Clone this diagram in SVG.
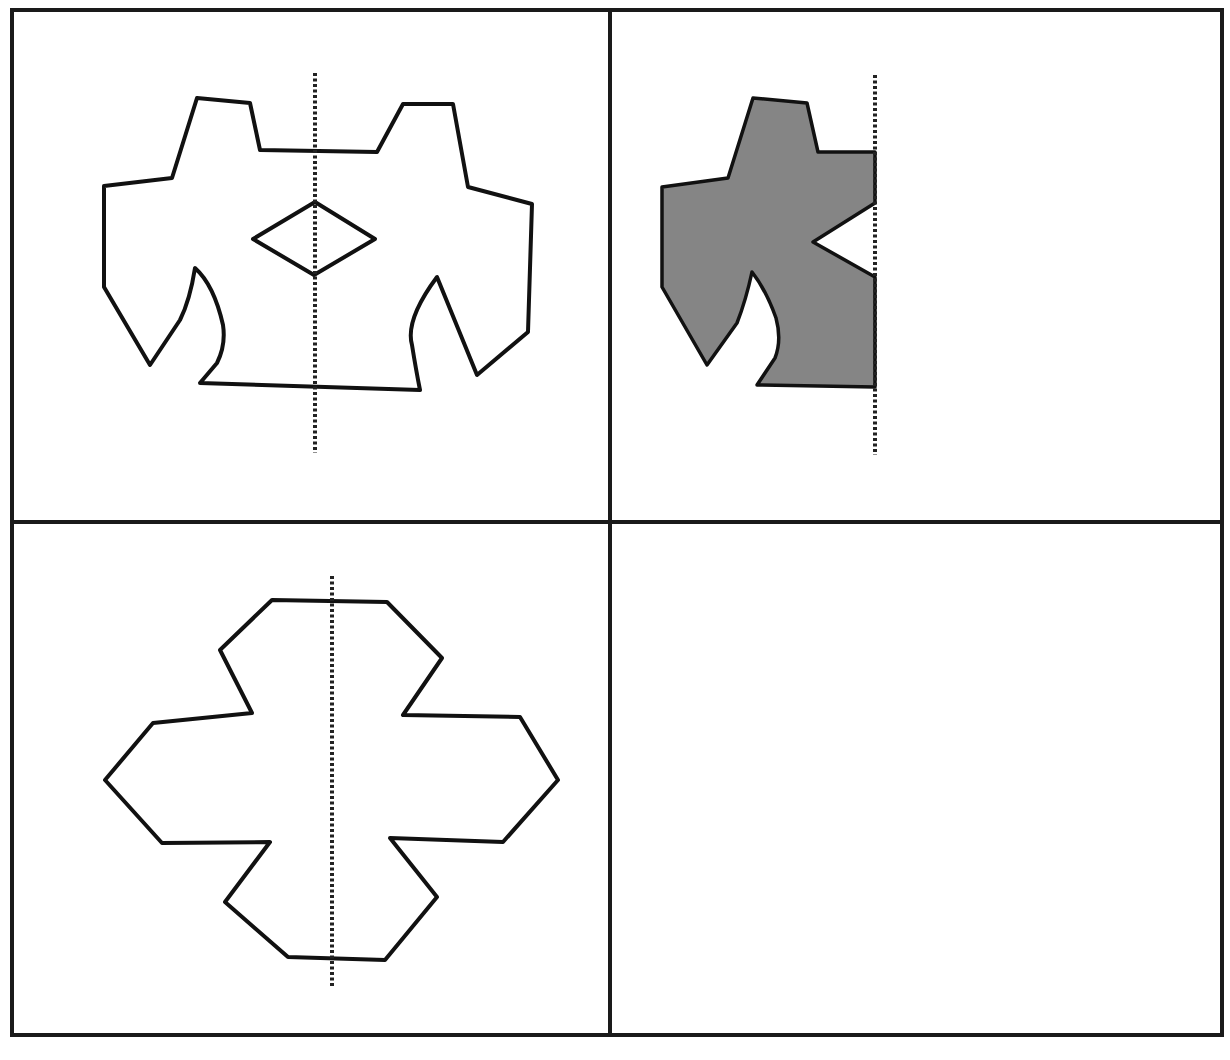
<svg xmlns="http://www.w3.org/2000/svg" width="1230" height="1060" viewBox="0 0 1230 1060">
<style>
.frame{fill:none;stroke:#1a1a1a;stroke-width:4}
.shape{fill:none;stroke:#111;stroke-width:4;stroke-linejoin:round}
.shaded{fill:#858585;stroke:#111;stroke-width:3.5;stroke-linejoin:round}
.axis{stroke:#222;stroke-width:4;stroke-dasharray:3 2.5;fill:none}
</style>
<rect width="1230" height="1060" fill="#fff"/>
<g id="frame">
<rect class="frame" x="12" y="10" width="1210" height="1025"/>
<line class="frame" x1="610" y1="10" x2="610" y2="1035"/>
<line class="frame" x1="12" y1="522" x2="1222" y2="522"/>
</g>
<g id="panel-top-left">
<path class="shape" d="M197,98 L250,103 L260,150 L377,152 L403,104 L453,104 L468,187 L532,204 L528,332 L477,375 L437,277 Q405,320 412,345 Q416,370 420,390 L200,383 L217,363 Q226,345 223,325 Q214,285 195,268 Q190,300 180,320 L150,365 L104,287 L104,186 L172,178 Z"/>
<path class="shape" d="M253,239 L315,202 L375,239 L314,275 Z"/>
<line class="axis" x1="315" y1="73" x2="315" y2="453"/>
</g>
<g id="panel-top-right">
<path class="shaded" d="M753,98 L807,103 L818,152 L875,152 L875,203 L813,242 L875,277 L875,387 L757,385 L775,358 Q782,340 776,318 Q766,290 752,272 Q746,300 737,323 L707,365 L662,287 L662,187 L728,178 Z"/>
<line class="axis" x1="875" y1="75" x2="875" y2="455"/>
</g>
<g id="panel-bottom-left">
<path class="shape" d="M272,600 L387,602 L442,658 L403,715 L520,717 L558,780 L503,842 L390,838 L437,897 L385,960 L288,957 L225,902 L270,842 L162,843 L105,780 L153,723 L252,713 L220,650 Z"/>
<line class="axis" x1="332" y1="576" x2="332" y2="986"/>
</g>
<g id="panel-bottom-right"></g>
</svg>
